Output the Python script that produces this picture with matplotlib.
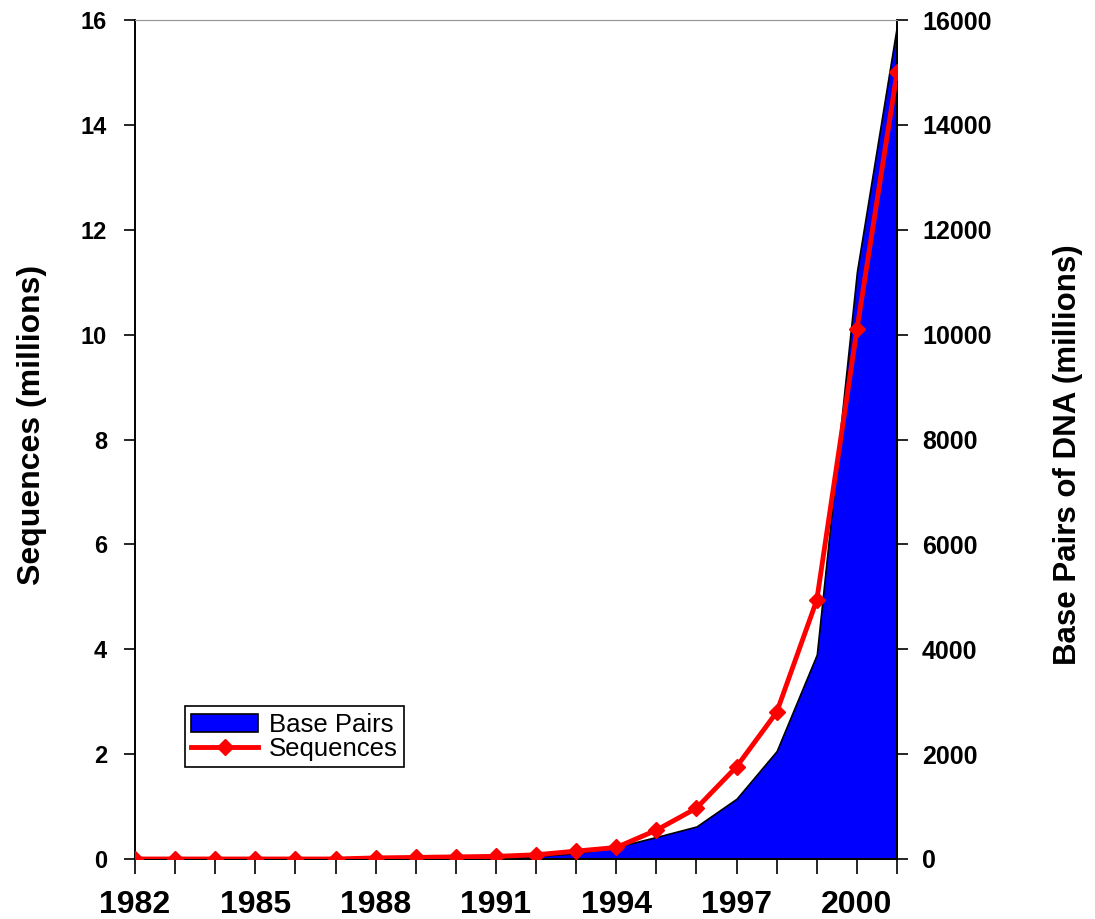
import matplotlib.pyplot as plt
import matplotlib as mpl

mpl.rcParams['font.family'] = ['Liberation Sans', 'DejaVu Sans']

# GenBank growth data
years = list(range(1982, 2002))
sequences = [0.0, 0.0, 0.0, 0.0, 0.0, 0.0, 0.02, 0.03, 0.04, 0.05,
             0.08, 0.15, 0.22, 0.55, 0.97, 1.76, 2.80, 4.94, 10.10, 15.00]
base_pairs = [0, 0, 0, 0, 0, 0, 5, 10, 20, 35,
              55, 110, 230, 420, 620, 1150, 2060, 3900, 11200, 15900]

fig = plt.figure(figsize=(10.95, 9.19), dpi=100)
ax = fig.add_axes([0.1233, 0.0653, 0.6959, 0.9129])
ax2 = ax.twinx()

# area (base pairs) on the right axis, drawn underneath the line
ax2.patch.set_facecolor('#fcfcd2')
ax2.fill_between(years, base_pairs, 0, color='#0000ff', edgecolor='black',
                 linewidth=1.2, label='Base Pairs', zorder=1)
ax2.set_ylim(0, 16000)
ax2.set_yticks(range(0, 16001, 2000))

ax.set_zorder(ax2.get_zorder() + 1)
ax.patch.set_visible(False)

ax.plot(years, sequences, color='#ff0000', linewidth=3.5, marker='D',
        markersize=8, label='Sequences', zorder=3)
ax.set_ylim(0, 16)
ax.set_xlim(1982, 2001)
ax.set_yticks(range(0, 17, 2))
ax.set_xticks(years, minor=True)
ax.set_xticks(range(1982, 2001, 3))

ax.set_ylabel('Sequences (millions)', fontsize=23, fontweight='bold')
ax.yaxis.set_label_coords(-0.116, 0.517)
ax2.set_ylabel('Base Pairs of DNA (millions)', fontsize=22.5, fontweight='bold')
ax2.yaxis.set_label_coords(1.205, 0.482)

ax.tick_params(axis='y', labelsize=17, width=1.2, length=8, pad=12)
ax2.tick_params(axis='y', labelsize=18, width=1.2, length=8, pad=10)
for a in (ax, ax2):
    for lbl in a.get_yticklabels():
        lbl.set_fontweight('bold')
ax.tick_params(axis='x', which='both', length=11, width=1.2, labelsize=23, pad=11)
for lbl in ax.get_xticklabels():
    lbl.set_fontweight('bold')

for a in (ax, ax2):
    a.spines['top'].set_color('#999999')
    a.spines['left'].set_linewidth(1.2)
    a.spines['right'].set_linewidth(1.2)
    a.spines['bottom'].set_linewidth(1.2)

h1, l1 = ax2.get_legend_handles_labels()
h2, l2 = ax.get_legend_handles_labels()
leg = ax.legend(h1 + h2, l1 + l2, loc='lower left', bbox_to_anchor=(0.0656, 0.1097),
                fontsize=18.5, frameon=True, fancybox=False, edgecolor='black',
                framealpha=1, borderpad=0.25, borderaxespad=0, labelspacing=0.0,
                handlelength=2.6, handletextpad=0.4)
leg.get_frame().set_linewidth(1.2)

fig.savefig('out.png', dpi=100)
